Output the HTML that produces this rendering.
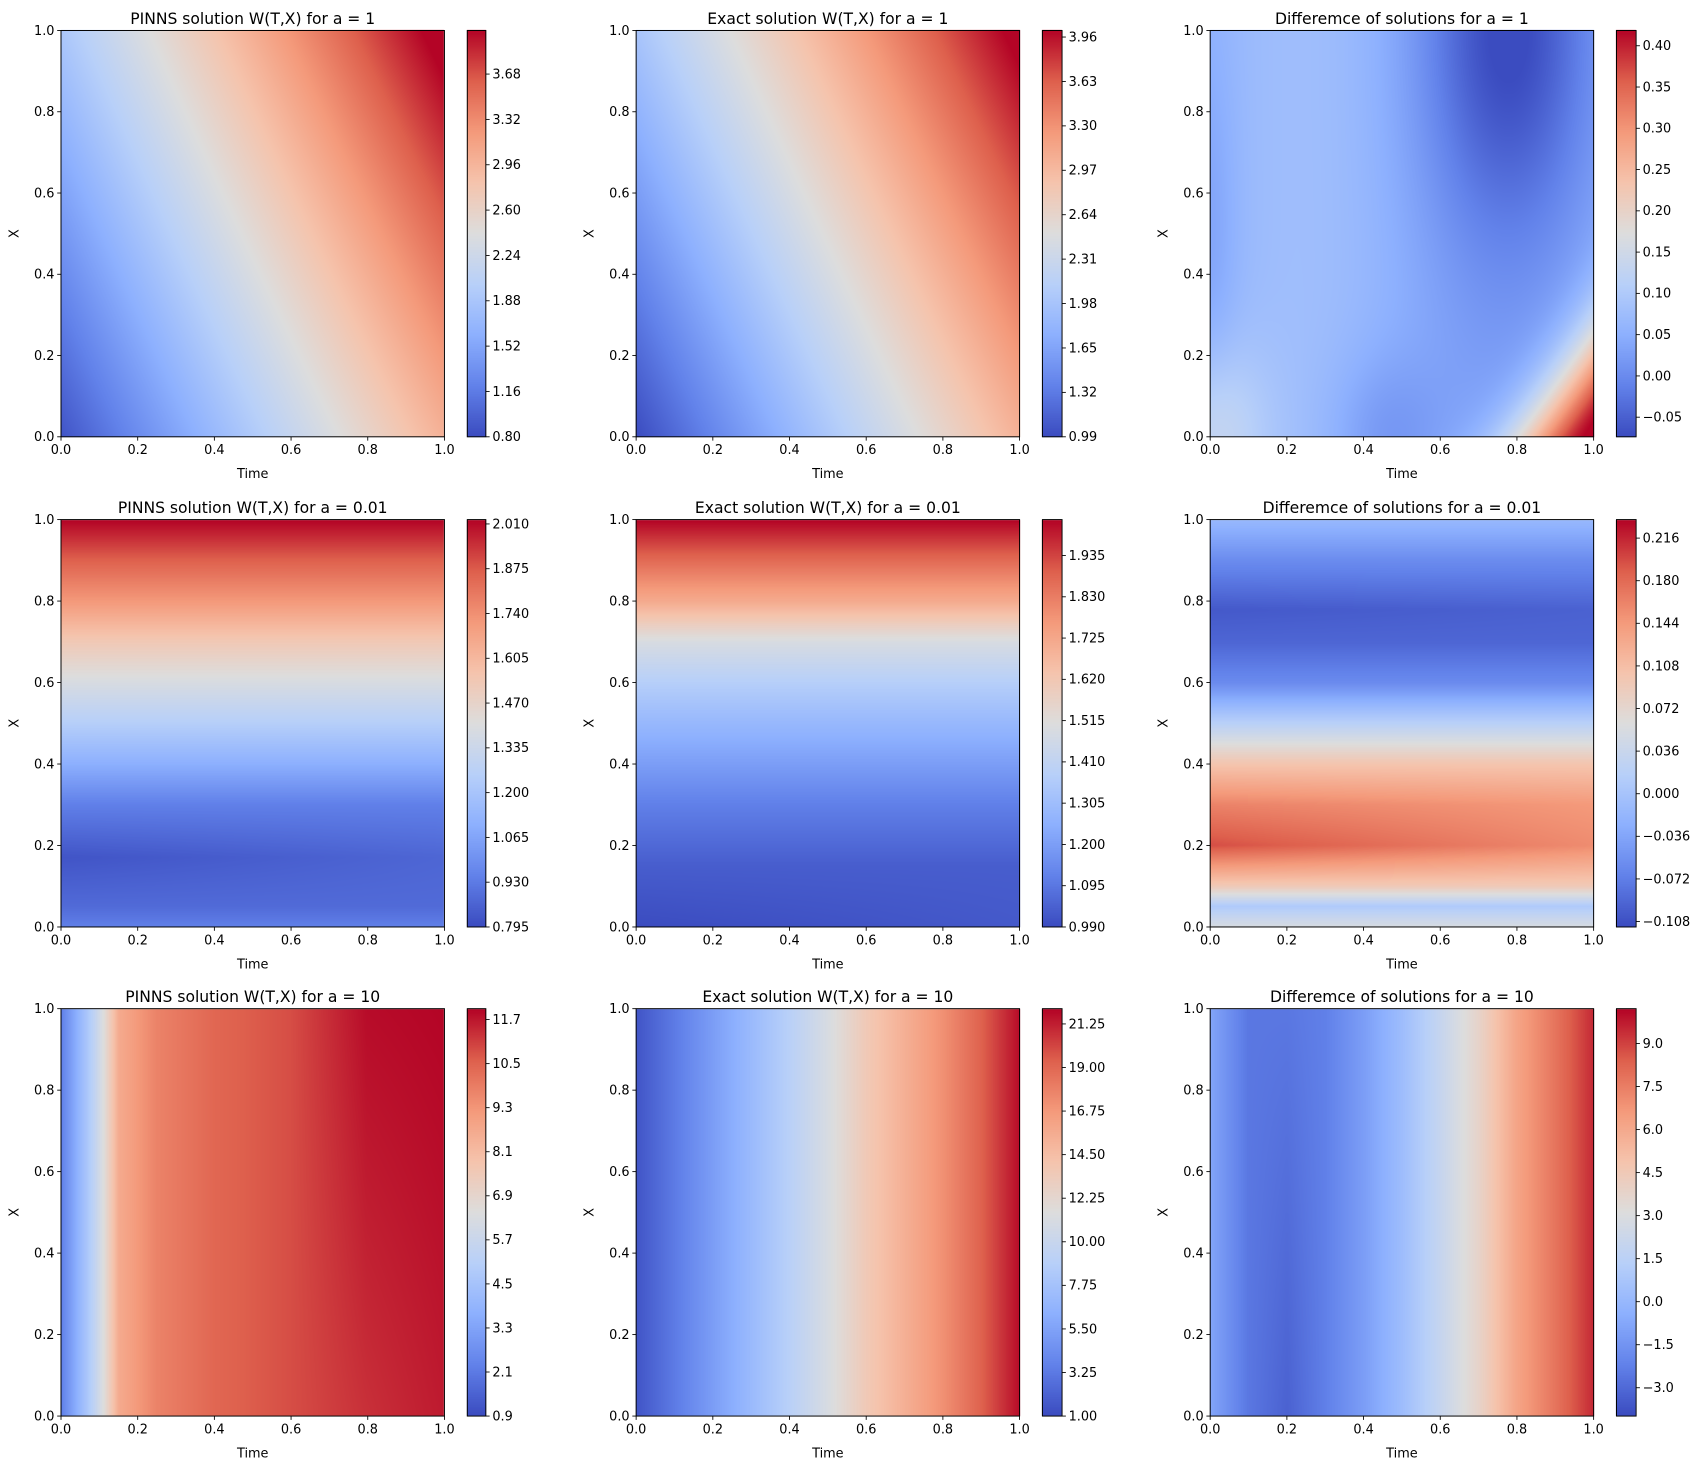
<!DOCTYPE html>
<html><head><meta charset="utf-8">
<style>
html,body{margin:0;padding:0;background:#fff;}
#wrap{position:relative;width:1708px;height:1469px;overflow:hidden;}
canvas{position:absolute;left:0;top:0;}
svg{position:absolute;left:0;top:0;}
text{font-family:"DejaVu Sans","Liberation Sans",sans-serif;fill:#000;}
</style></head>
<body>
<div id="wrap">
<canvas id="cv" width="1708" height="1469"></canvas>
<svg id="sv" width="1708" height="1469" viewBox="0 0 1568 1348.6"></svg>
</div>
<script>
const S=1708/1568;
const K=[[59,76,192],[98,130,234],[141,176,254],[184,208,249],[221,221,221],[245,196,173],[244,154,123],[222,96,77],[180,4,38]];
function cw(v){v=Math.max(0,Math.min(1,v));const p=v*8,i=Math.min(7,Math.floor(p)),f=p-i;return K[i].map((c,j)=>Math.round(c+(K[i+1][j]-c)*f));}
function pl(pts,u){for(let i=0;i<pts.length-1;i++){if(u<=pts[i+1][0]){const f=(u-pts[i][0])/(pts[i+1][0]-pts[i][0]);return pts[i][1]+(pts[i+1][1]-pts[i][1])*f;}}return pts[pts.length-1][1];}
const G=Math.exp;
const fns=[
 (t,x)=>0.02+0.66*t+0.32*x+0.04*t*x,
 (t,x)=>0.0+0.68*t+0.33*x+0.02*t*x,
 (t,x)=>{let v=0.27+0.04*Math.cos(2*Math.PI*(t-0.25))-0.03*t;
   v-=0.22*G(-((t-0.78)*(t-0.78)/0.05+(x-1)*(x-1)/0.25));
   v-=0.08*G(-((t-0.45)*(t-0.45)/0.02+(x)*(x)/0.04));
   const d=(1-t)+0.8*x; v+=0.78*G(-d*d/0.04);
   v+=0.15*G(-(t*t/0.02+x*x/0.05));
   v-=0.05*G(-(t*t/0.005+(x-0.5)*(x-0.5)/0.2));
   return v;},
 (t,x)=>pl([[0,0.12],[0.05,0.07],[0.17,0.02+0.04*t],[0.3,0.12],[0.4,0.25],[0.5,0.37],[0.6,0.48],[0.7,0.6],[0.8,0.75],[0.9,0.87],[1,1.0]],x),
 (t,x)=>pl([[0,0.0+0.03*t],[0.15,0.04],[0.3,0.12],[0.4,0.2],[0.5,0.28],[0.6,0.37],[0.7,0.48],[0.8,0.7],[0.9,0.85],[1,1.0]],x),
 (t,x)=>pl([[0,0.48],[0.05,0.35],[0.1,0.6],[0.2,0.9-0.12*t],[0.3,0.8-0.05*t],[0.4,0.62],[0.5,0.38],[0.6,0.15],[0.7,0.06],[0.78,0.03+0.02*t],[0.9,0.15],[1,0.28]],x),
 (t,x)=>pl([[0,0.12],[0.04,0.25],[0.08,0.38],[0.11,0.5],[0.15,0.7],[0.25,0.8],[0.4,0.86],[0.6,0.9],[0.8,0.94+0.05*x],[1,0.97+0.03*x]],t),
 (t,x)=>pl([[0,0.02],[0.2,0.2],[0.4,0.38],[0.5,0.48],[0.6,0.6],[0.8,0.77],[0.9,0.87],[1,0.99]],t),
 (t,x)=>pl([[0,0.22],[0.1,0.1],[0.2,0.05+0.05*x],[0.3,0.12],[0.4,0.2],[0.5,0.3],[0.6,0.42],[0.7,0.55],[0.8,0.72],[0.9,0.83],[1,0.95]],t)
];
const cols=[[56,408,429,446],[584,936,957,975],[1111,1463,1484,1502]];
const rows=[[28,401],[477,851],[926,1300]];
const titles=["PINNS solution W(T,X) for a = 1","Exact solution W(T,X) for a = 1","Differemce of solutions for a = 1",
"PINNS solution W(T,X) for a = 0.01","Exact solution W(T,X) for a = 0.01","Differemce of solutions for a = 0.01",
"PINNS solution W(T,X) for a = 10","Exact solution W(T,X) for a = 10","Differemce of solutions for a = 10"];
const cb=[
 [["0.80","1.16","1.52","1.88","2.24","2.60","2.96","3.32","3.68"],401,68],
 [["0.99","1.32","1.65","1.98","2.31","2.64","2.97","3.30","3.63","3.96"],401,34],
 [["\u22120.05","0.00","0.05","0.10","0.15","0.20","0.25","0.30","0.35","0.40"],383,42],
 [["0.795","0.930","1.065","1.200","1.335","1.470","1.605","1.740","1.875","2.010"],851,481],
 [["0.990","1.095","1.200","1.305","1.410","1.515","1.620","1.725","1.830","1.935"],851,510],
 [["\u22120.108","\u22120.072","\u22120.036","0.000","0.036","0.072","0.108","0.144","0.180","0.216"],846,494],
 [["0.9","2.1","3.3","4.5","5.7","6.9","8.1","9.3","10.5","11.7"],1300,936],
 [["1.00","3.25","5.50","7.75","10.00","12.25","14.50","16.75","19.00","21.25"],1300,940],
 [["\u22123.0","\u22121.5","0.0","1.5","3.0","4.5","6.0","7.5","9.0"],1274,958]
];
const ctx=document.getElementById('cv').getContext('2d');
let s='';
const tk=["0.0","0.2","0.4","0.6","0.8","1.0"];
for(let r=0;r<3;r++)for(let c=0;c<3;c++){
 const k=r*3+c,[x0,x1,c0,c1]=cols[c],[y0,y1]=rows[r],f=fns[k];
 const X0=Math.round(x0*S),X1=Math.round(x1*S),Y0=Math.round(y0*S),Y1=Math.round(y1*S);
 const w=X1-X0,h=Y1-Y0,img=ctx.createImageData(w,h);
 for(let j=0;j<h;j++){const xv=1-j/(h-1);for(let i=0;i<w;i++){const tv=i/(w-1);const col=cw(f(tv,xv));const o=(j*w+i)*4;img.data[o]=col[0];img.data[o+1]=col[1];img.data[o+2]=col[2];img.data[o+3]=255;}}
 ctx.putImageData(img,X0,Y0);
 const C0=Math.round(c0*S),C1=Math.round(c1*S),ch=Y1-Y0,ci=ctx.createImageData(C1-C0,ch);
 for(let j=0;j<ch;j++){const col=cw(1-j/(ch-1));for(let i=0;i<C1-C0;i++){const o=(j*(C1-C0)+i)*4;ci.data[o]=col[0];ci.data[o+1]=col[1];ci.data[o+2]=col[2];ci.data[o+3]=255;}}
 ctx.putImageData(ci,C0,Y0);
 s+=`<rect x="${x0}" y="${y0}" width="${x1-x0}" height="${y1-y0}" fill="none" stroke="#000" stroke-width="0.9"/>`;
 s+=`<rect x="${c0}" y="${y0}" width="${c1-c0}" height="${y1-y0}" fill="none" stroke="#000" stroke-width="0.9"/>`;
 s+=`<text x="${(x0+x1)/2}" y="${y0-6}" font-size="14.3" text-anchor="middle">${titles[k]}</text>`;
 for(let i=0;i<6;i++){const xx=x0+(x1-x0)*i/5;s+=`<line x1="${xx}" y1="${y1}" x2="${xx}" y2="${y1+3.5}" stroke="#000" stroke-width="0.8"/><text x="${xx}" y="${y1+16}" font-size="11.8" text-anchor="middle">${tk[i]}</text>`;
  const yy=y1-(y1-y0)*i/5;s+=`<line x1="${x0}" y1="${yy}" x2="${x0-3.5}" y2="${yy}" stroke="#000" stroke-width="0.8"/><text x="${x0-6}" y="${yy+4}" font-size="11.8" text-anchor="end">${tk[i]}</text>`;}
 s+=`<text x="${(x0+x1)/2}" y="${y1+38}" font-size="11.8" text-anchor="middle">Time</text>`;
 s+=`<text transform="translate(${x0-39},${(y0+y1)/2}) rotate(-90)" font-size="11.8" text-anchor="middle">X</text>`;
 const [lab,ya,yb]=cb[k],n=lab.length;
 for(let i=0;i<n;i++){const yy=ya+(yb-ya)*i/(n-1);s+=`<line x1="${c1}" y1="${yy}" x2="${c1+3.5}" y2="${yy}" stroke="#000" stroke-width="0.8"/><text x="${c1+6}" y="${yy+4}" font-size="11.8">${lab[i]}</text>`;}
}
document.getElementById('sv').innerHTML=s;
</script>
</body></html>
